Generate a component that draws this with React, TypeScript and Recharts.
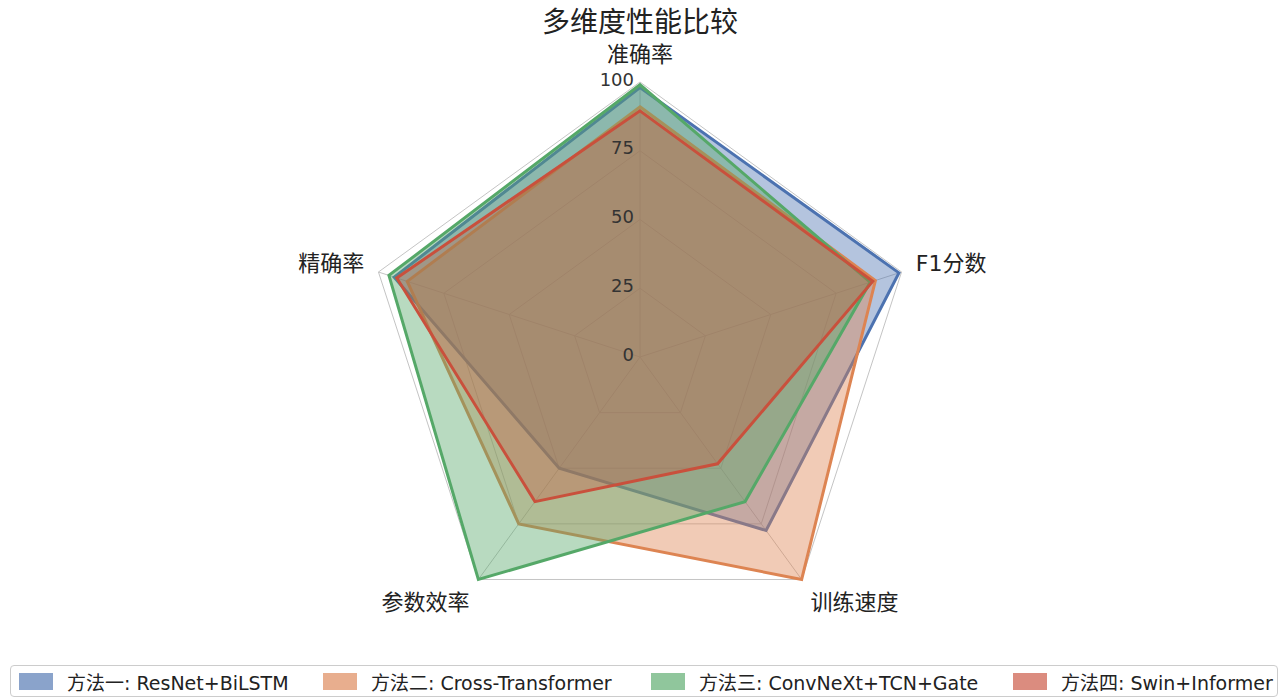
import React from 'react';
import { RadarChart, Radar, PolarGrid, PolarAngleAxis, PolarRadiusAxis, Legend } from 'recharts';

const metrics = ['准确率', 'F1分数', '训练速度', '参数效率', '精确率'];
const methodNames = ['方法一: ResNet+BiLSTM', '方法二: Cross-Transformer', '方法三: ConvNeXt+TCN+Gate', '方法四: Swin+Informer'];
const method1 = [98, 99, 78, 50, 94];
const method2 = [91, 90, 100, 75, 89];
const method3 = [99, 88, 65, 100, 96];
const method4 = [89.5, 89, 48, 65, 93];
const radiusTicks = [0, 25, 50, 75, 100];

const colors = ['#4c72b0', '#dd8452', '#55a868', '#c9503c'];
const fillAlpha = [0.42, 0.42, 0.42, 0.32];
const keys = ['m1', 'm2', 'm3', 'm4'];
const FONT = '"DejaVu Sans", "Noto Sans CJK SC", sans-serif';

const CX = 640;
const CY = 357;
const R = 275;

const data = metrics.map((m, i) => ({
    metric: m,
    m1: method1[i],
    m2: method2[i],
    m3: method3[i],
    m4: method4[i],
}));

function AngleTick(props: any) {
    const { payload } = props;
    const ang = (payload.coordinate * Math.PI) / 180;
    // a bit more room vertically than horizontally, like the original
    const x = CX + 290 * Math.cos(ang);
    const y = CY - 303 * Math.sin(ang);
    const c = Math.cos(ang);
    const anchor = Math.abs(c) < 0.1 ? 'middle' : c > 0 ? 'start' : 'end';
    return (
        <text x={x} y={y} textAnchor={anchor} dominantBaseline="central" fontSize={22} fill="#222" fontFamily={FONT}>
            {payload.value}
        </text>
    );
}

function RadiusTick(props: any) {
    const { x, y, payload } = props;
    return (
        <text x={x - 6} y={y - 3} textAnchor="end" dominantBaseline="central" fontSize={18} fill="#333" fontFamily={FONT}>
            {payload.value}
        </text>
    );
}

function LegendBox() {
    const lefts = [8, 312, 640, 1002];
    return (
        <div style={{ position: 'relative', width: 1268, height: 32, border: '1px solid #ccc', borderRadius: 4, background: '#fff', boxSizing: 'border-box' }}>
            {methodNames.map((n, i) => (
                <div key={n} style={{ position: 'absolute', left: lefts[i], top: 0, height: 30, display: 'flex', alignItems: 'center' }}>
                    <div style={{ width: 30, height: 13, background: colors[i], opacity: 0.65, border: `2px solid ${colors[i]}` }} />
                    <span style={{ marginLeft: 14, fontSize: 19, color: '#222', fontFamily: FONT, whiteSpace: 'nowrap' }}>{n}</span>
                </div>
            ))}
        </div>
    );
}

export default function App() {
    return (
        <div style={{ position: 'absolute', left: 0, top: 0, width: 1280, height: 698, background: '#fff' }}>
            <div style={{ position: 'absolute', left: 0, top: 0, width: 1280, textAlign: 'center', fontSize: 28, fontFamily: FONT, color: '#222' }}>
                多维度性能比较
            </div>
            <RadarChart width={1280} height={698} data={data} cx={CX} cy={CY} outerRadius={R} margin={{ top: 0, right: 0, bottom: 0, left: 0 }}>
                <PolarGrid gridType="polygon" stroke="#c4c4c4" strokeWidth={1} />
                <PolarAngleAxis dataKey="metric" tick={<AngleTick />} tickLine={false} axisLine={false} />
                <PolarRadiusAxis angle={90} domain={[0, 100]} ticks={radiusTicks as any} tickCount={5} axisLine={false} tick={<RadiusTick />} />
                {keys.map((k, i) => (
                    <Radar
                        key={k}
                        name={methodNames[i]}
                        dataKey={k}
                        stroke={colors[i]}
                        strokeWidth={3}
                        fill={colors[i]}
                        fillOpacity={fillAlpha[i]}
                        isAnimationActive={false}
                    />
                ))}
                <Legend content={() => <LegendBox />} wrapperStyle={{ position: 'absolute', left: 10, top: 665, width: 1268 }} />
            </RadarChart>
        </div>
    );
}
